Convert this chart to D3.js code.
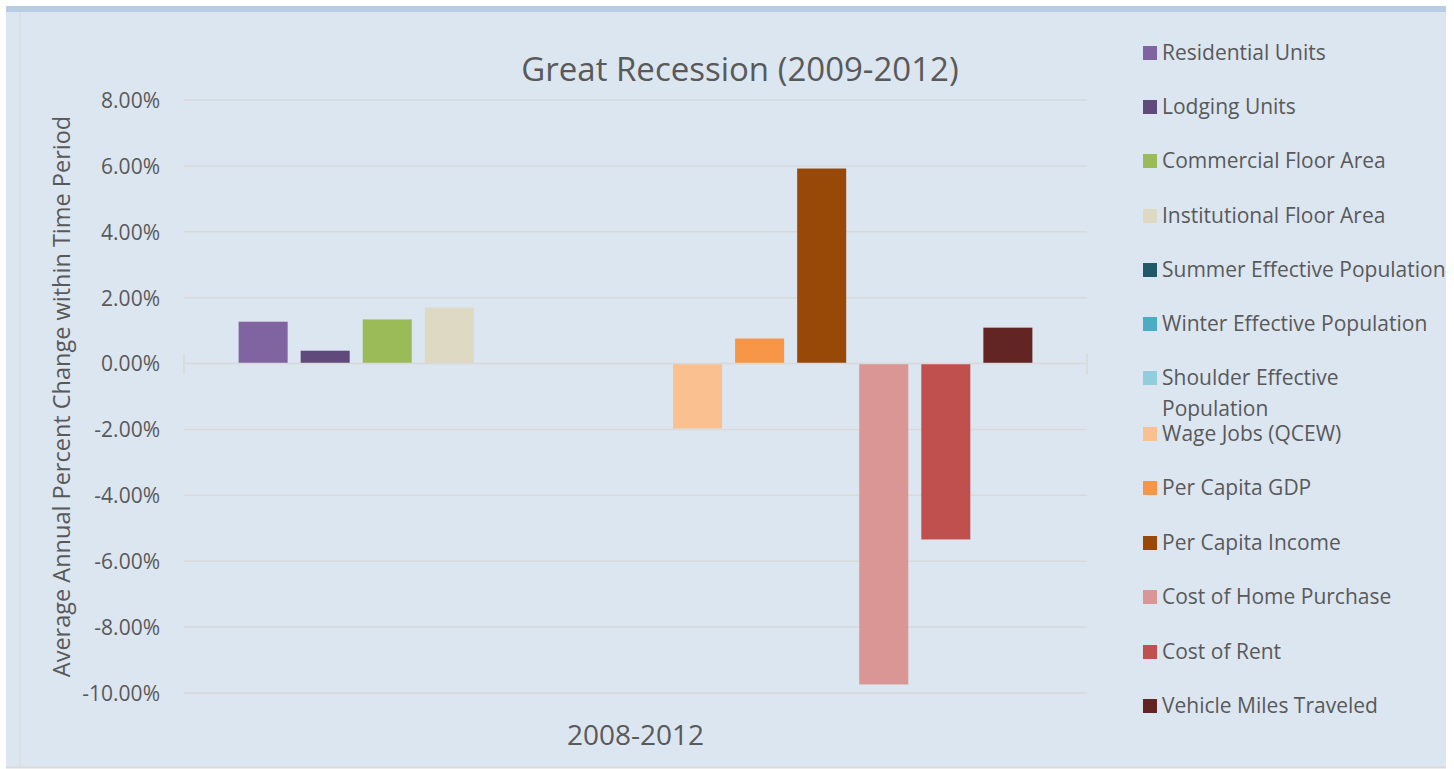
<!DOCTYPE html>
<html>
<head>
<meta charset="utf-8">
<script src="https://cdn.jsdelivr.net/npm/d3@7"></script>
<style>
  html, body { margin: 0; padding: 0; background: #ffffff; }
  svg { display: block; }
  text { font-family: "Open Sans", "Noto Sans", sans-serif; fill: #595959; }
</style>
</head>
<body>
<svg id="chart" width="1454" height="769"></svg>
<script>
const categories = ["2008-2012"];
const seriesNames = [
  "Residential Units", "Lodging Units", "Commercial Floor Area", "Institutional Floor Area",
  "Summer Effective Population", "Winter Effective Population", "Shoulder Effective Population",
  "Wage Jobs (QCEW)", "Per Capita GDP", "Per Capita Income", "Cost of Home Purchase",
  "Cost of Rent", "Vehicle Miles Traveled"
];
const seriesValues = [1.27, 0.39, 1.34, 1.70, null, null, null, -1.97, 0.76, 5.92, -9.74, -5.34, 1.09];
const seriesColors = [
  "#8064a2", "#604a7b", "#9bbb59", "#ddd9c3", "#215968", "#4bacc6", "#92cddc",
  "#fac090", "#f79646", "#984807", "#da9694", "#c0504d", "#632523"
];
const yTicks = [8, 6, 4, 2, 0, -2, -4, -6, -8, -10];
const legendLabels = [
  ["Residential Units"], ["Lodging Units"], ["Commercial Floor Area"], ["Institutional Floor Area"],
  ["Summer Effective Population"], ["Winter Effective Population"], ["Shoulder Effective", "Population"],
  ["Wage Jobs (QCEW)"], ["Per Capita GDP"], ["Per Capita Income"], ["Cost of Home Purchase"],
  ["Cost of Rent"], ["Vehicle Miles Traveled"]
];
const titleText = "Great Recession (2009-2012)";
const yTitle = "Average Annual Percent Change within Time Period";

const svg = d3.select("#chart");

// frame / background
svg.append("rect").attr("x", 6).attr("y", 6).attr("width", 1440).attr("height", 761).attr("fill", "#dce6f1");
svg.append("rect").attr("x", 6).attr("y", 6).attr("width", 1440).attr("height", 6).attr("fill", "#b8cce4");
svg.append("line").attr("x1", 20).attr("x2", 20).attr("y1", 12).attr("y2", 767).attr("stroke", "#d9d9d9").attr("stroke-width", 1);
svg.append("line").attr("x1", 6).attr("x2", 1446).attr("y1", 767.5).attr("y2", 767.5).attr("stroke", "#d9d9d9").attr("stroke-width", 2);

const plot = { left: 184, right: 1087, top: 100, bottom: 693 };

const y = d3.scaleLinear().domain([-10, 8]).range([plot.bottom, plot.top]);
const x0 = d3.scaleBand().domain(categories).range([plot.left, plot.right]).padding(0);
const x1 = d3.scaleBand().domain(seriesNames).range([0, x0.bandwidth()])
  .paddingInner(0.21).paddingOuter(0.88);

// gridlines
svg.append("g").selectAll("line").data(yTicks).join("line")
  .attr("x1", plot.left).attr("x2", plot.right)
  .attr("y1", d => y(d)).attr("y2", d => y(d))
  .attr("stroke", "#d9d9d9").attr("stroke-width", 1.5);

// y axis labels
const yAxis = d3.axisLeft(y).tickValues(yTicks).tickSize(0).tickPadding(0)
  .tickFormat(d => (d < 0 ? "-" : "") + Math.abs(d).toFixed(2) + "%");
const gy = svg.append("g").attr("transform", `translate(${plot.left - 24},0)`).call(yAxis);
gy.select(".domain").remove();
gy.selectAll("text").attr("font-family", null).style("font-family", "'Open Sans', sans-serif")
  .style("font-size", "21px").attr("fill", "#595959").attr("dy", "0.35em");

// bars
const bars = seriesNames.map((s, i) => ({ name: s, value: seriesValues[i], color: seriesColors[i], cat: categories[0] }))
  .filter(d => d.value !== null);
svg.append("g").selectAll("rect").data(bars).join("rect")
  .attr("x", d => x0(d.cat) + x1(d.name))
  .attr("width", x1.bandwidth())
  .attr("y", d => y(Math.max(0, d.value)))
  .attr("height", d => Math.abs(y(d.value) - y(0)))
  .attr("fill", d => d.color);

// zero axis line with category boundary ticks
svg.append("line").attr("x1", plot.left).attr("x2", plot.right).attr("y1", y(0)).attr("y2", y(0))
  .attr("stroke", "#d9d9d9").attr("stroke-width", 1.5);
svg.append("g").selectAll("line").data([plot.left, plot.right]).join("line")
  .attr("x1", d => d).attr("x2", d => d).attr("y1", y(0) - 10).attr("y2", y(0) + 11)
  .attr("stroke", "#d9d9d9").attr("stroke-width", 1.5);

// category label
svg.append("g").selectAll("text").data(categories).join("text")
  .attr("x", d => x0(d) + x0.bandwidth() / 2)
  .attr("y", 745)
  .attr("text-anchor", "middle")
  .style("font-size", "28px")
  .text(d => d);

// title
svg.append("text").attr("x", 740).attr("y", 81).attr("text-anchor", "middle")
  .style("font-size", "33px").text(titleText);

// y title
svg.append("text").attr("transform", `translate(70,${(118 + 675) / 2}) rotate(-90)`)
  .attr("text-anchor", "middle").style("font-size", "23.5px").text(yTitle);

// legend
const legendY = [53, 107, 161, 216, 270, 324, 378, 434, 488, 543, 597, 652, 706];
const lg = svg.append("g").selectAll("g").data(legendLabels).join("g")
  .attr("transform", (d, i) => `translate(1143,${legendY[i]})`);
lg.append("rect").attr("x", 0).attr("y", -7).attr("width", 14).attr("height", 14)
  .attr("fill", (d, i) => seriesColors[i]);
lg.append("text").attr("x", 19).attr("y", 0).style("font-size", "21px")
  .selectAll("tspan").data(d => d).join("tspan")
  .attr("x", 19).attr("dy", (d, j) => j === 0 ? "0.35em" : "31px").text(d => d);
</script>
</body>
</html>
